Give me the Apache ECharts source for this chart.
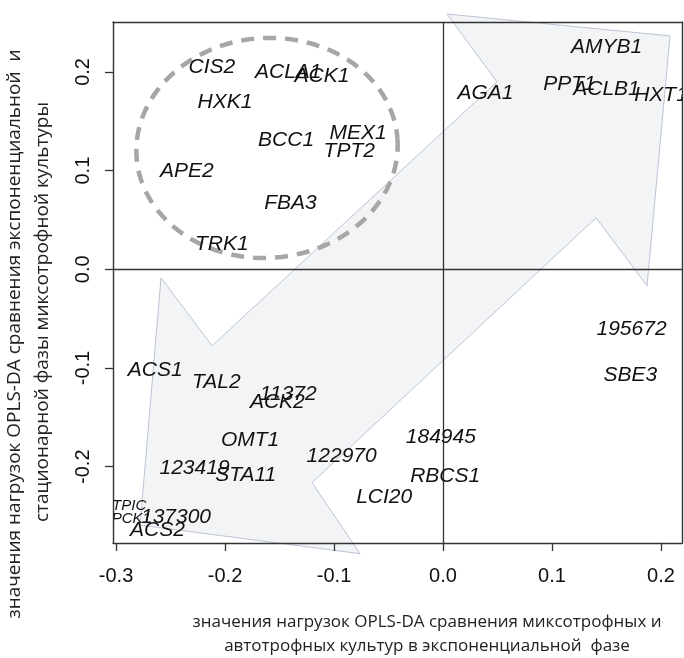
<!DOCTYPE html>
<html>
<head>
<meta charset="utf-8">
<script src="https://cdn.jsdelivr.net/npm/echarts@6/dist/echarts.min.js"></script>
<style>
html,body{margin:0;padding:0;background:#fff;}
#chart{width:684px;height:658px;}
</style>
</head>
<body>
<div id="chart"></div>
<script>
// ---- data (OPLS-DA loadings) ----
const genes = ['CIS2','ACLA1','ACK1','HXK1','BCC1','MEX1','TPT2','APE2','FBA3','TRK1',
  'AMYB1','AGA1','PPT1','ACLB1','HXT1',
  'ACS1','TAL2','11372','ACK2','OMT1','122970','123419','STA11','LCI20','137300','ACS2',
  '195672','SBE3','184945','RBCS1','TPIC','PCK1'];
const loadX = [-0.212,-0.142,-0.111,-0.200,-0.144,-0.078,-0.086,-0.235,-0.140,-0.203,
  0.150,0.039,0.116,0.150,0.200,
  -0.264,-0.208,-0.142,-0.152,-0.177,-0.093,-0.228,-0.181,-0.054,-0.245,-0.262,
  0.173,0.172,-0.002,0.002,-0.288,-0.286];
const loadY = [0.205,0.200,0.196,0.169,0.131,0.138,0.120,0.099,0.067,0.025,
  0.225,0.179,0.188,0.183,0.176,
  -0.102,-0.114,-0.126,-0.135,-0.173,-0.189,-0.201,-0.209,-0.231,-0.251,-0.264,
  -0.061,-0.107,-0.170,-0.210,-0.2395,-0.2527];
const smallLabels = ['TPIC','PCK1'];

const xTicks = [-0.3,-0.2,-0.1,0.0,0.1,0.2];
const yTicks = [-0.2,-0.1,0.0,0.1,0.2];
const xRange = [-0.3028, 0.2193];
const yRange = [-0.2773, 0.2506];

// decorative double arrow (data coordinates)
const arrowX = [0.0495,0.0037,0.2083,0.1872,0.1404,-0.1202,-0.0761,-0.2780,-0.2587,-0.2119];
const arrowY = [0.190,0.2587,0.2365,-0.0167,0.0522,-0.2162,-0.2881,-0.2592,-0.0086,-0.0775];
// dashed ellipse (centre and radii, data units)
const ellipseC = [-0.1615, 0.123];
const ellipseR = [0.120, 0.1114];

const xTitle = ['значения нагрузок OPLS-DA сравнения миксотрофных и',
                'автотрофных культур в экспоненциальной  фазе'];
const yTitle = ['значения нагрузок OPLS-DA сравнения экспоненциальной  и',
                'стационарной фазы миксотрофной культуры'];

const chart = echarts.init(document.getElementById('chart'), null, {renderer:'canvas'});
const AX = '#333';
const xTitleFont = '17px "Open Sans"';
const yTitleFont = '19px "Open Sans"';

function axisCommon(isX, main){
  return {
    type:'value', min: isX?xRange[0]:yRange[0], max: isX?xRange[1]:yRange[1],
    position: isX ? (main?'bottom':'top') : (main?'left':'right'),
    z: 10,
    axisLine:{show:true,onZero:false,lineStyle:{color:AX,width:1.4}},
    axisTick: main ? {show:true,customValues: isX?xTicks:yTicks,length:8,inside:false,lineStyle:{color:AX,width:1.3}} : {show:false},
    axisLabel: main ? {show:true,customValues: isX?xTicks:yTicks,
      formatter:(v)=>v.toFixed(1), fontSize:20, color:'#111', fontFamily:'Liberation Sans',
      margin: isX?23:20, rotate: isX?0:90} : {show:false},
    splitLine:{show:false}
  };
}

const labelData = genes.map((g,i)=>[loadX[i], loadY[i], i]);

const option = {
  animation:false,
  backgroundColor:'#fff',
  grid:{left:113,right:2,top:22,bottom:115,show:false},
  xAxis:[axisCommon(true,true),axisCommon(true,false)],
  yAxis:[axisCommon(false,true),axisCommon(false,false)],
  series:[
    { // arrow
      type:'custom', z:1, silent:true, clip:false,
      data:[[0,0]],
      renderItem:(params,api)=>{
        const pts = arrowX.map((x,i)=>api.coord([x,arrowY[i]]));
        return {type:'polygon', shape:{points:pts},
          style:{fill:'#f3f4f6', stroke:'#bcc5d4', lineWidth:1}};
      }
    },
    { // ellipse + zero lines
      type:'custom', z:3, silent:true, clip:false,
      data:[[ellipseC[0],ellipseC[1]]],
      renderItem:(params,api)=>{
        const c = api.coord([api.value(0),api.value(1)]);
        const s = api.size([ellipseR[0],ellipseR[1]]);
        const pts=[]; const rot = 4*Math.PI/180;
        for(let k=0;k<=120;k++){
          const t = k/120*2*Math.PI;
          const ex = s[0]*Math.cos(t), ey = s[1]*Math.sin(t);
          pts.push([c[0]+ex*Math.cos(rot)+ey*Math.sin(rot), c[1]-ex*Math.sin(rot)+ey*Math.cos(rot)]);
        }
        return {type:'polyline', shape:{points:pts},
          style:{fill:null, stroke:'#a6a6a6', lineWidth:4.5, lineDash:[13,9]}};
      },
      markLine:{silent:true, symbol:['none','none'], label:{show:false},
        lineStyle:{color:AX,width:1.3,type:'solid'},
        data:[{xAxis:0},{yAxis:0}]}
    },
    { // gene labels
      type:'custom', z:5, silent:true, clip:true,
      data:labelData,
      renderItem:(params,api)=>{
        const i = api.value(2);
        const p = api.coord([api.value(0),api.value(1)]);
        const small = smallLabels.indexOf(genes[i])>=0;
        return {type:'text', x:p[0], y:p[1],
          style:{text:genes[i], font:'italic '+(small?15:21)+'px "Liberation Sans"',
            fill:'#111', align:'center', verticalAlign:'middle',
            textAlign:'center', textVerticalAlign:'middle'}};
      }
    }
  ],
  graphic:[
    {type:'text', x:427, y:622, style:{text:xTitle[0], font:xTitleFont, fill:'#222', align:'center', verticalAlign:'middle'}},
    {type:'text', x:427, y:646, style:{text:xTitle[1], font:xTitleFont, fill:'#222', align:'center', verticalAlign:'middle'}},
    {type:'text', x:15, y:334, rotation:Math.PI/2, style:{text:yTitle[0], font:yTitleFont, fill:'#222', align:'center', verticalAlign:'middle'}},
    {type:'text', x:43, y:312, rotation:Math.PI/2, style:{text:yTitle[1], font:yTitleFont, fill:'#222', align:'center', verticalAlign:'middle'}}
  ]
};
chart.setOption(option);
</script>
</body>
</html>
